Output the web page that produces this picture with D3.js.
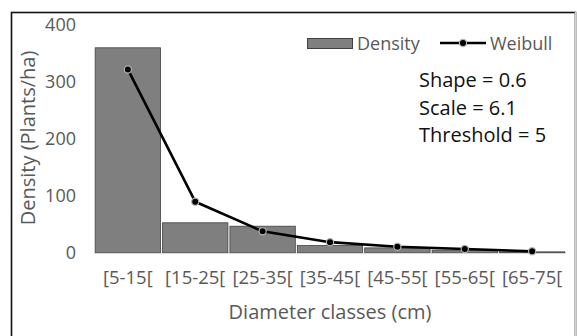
<!DOCTYPE html>
<html lang="en">
<head>
    <meta charset="UTF-8">
    <title>Density and Weibull fit by diameter class</title>
    <style>
        body {
            margin: 0;
            background-color: #ffffff;
        }
        svg text {
            font-family: "Open Sans", sans-serif;
        }
        .axis text {
            fill: #595959;
            font-size: 18px;
        }
        .x.axis text {
            font-size: 18.5px;
        }
        .axis path, .axis line {
            display: none;
        }
    </style>
    <script src="https://cdn.jsdelivr.net/npm/d3@7/dist/d3.min.js"></script>
</head>
<body>
<div id="chart"></div>
<script>
    // values
    var categories = ["[5-15[", "[15-25[", "[25-35[", "[35-45[", "[45-55[", "[55-65[", "[65-75["];
    var density = [360, 53, 47, 13, 9, 5, 2];
    var weibull = [322, 90, 38, 19, 11, 7, 3];
    var yTicks = [0, 100, 200, 300, 400];
    var notes = ["Shape = 0.6", "Scale = 6.1", "Threshold = 5"];

    var width = 577, height = 336;
    var barFill = "#7f7f7f", barEdge = "#404040", textGrey = "#595959";

    var svg = d3.select("#chart")
        .append("svg")
        .attr("width", width)
        .attr("height", height);

    // outer frame
    svg.append("rect")
        .attr("x", 11.5).attr("y", 12.5)
        .attr("width", 564).attr("height", 340)
        .style("fill", "none")
        .style("stroke", "#111")
        .style("stroke-width", 1.6);
    svg.append("line")
        .attr("x1", 575.5).attr("x2", 575.5)
        .attr("y1", 12).attr("y2", height)
        .style("stroke", "#d0d0d0")
        .style("stroke-width", 1.5);

    var x = d3.scaleBand()
        .domain(categories)
        .range([94.5, 565.5])
        .paddingInner(0.03)
        .paddingOuter(0.01);

    var y = d3.scaleLinear()
        .domain([0, 400])
        .range([253, 25]);

    // bars
    svg.append("g")
        .selectAll("rect")
        .data(density)
        .enter().append("rect")
        .attr("x", function(d, i) { return x(categories[i]); })
        .attr("y", function(d) { return y(d); })
        .attr("width", x.bandwidth())
        .attr("height", function(d) { return y(0) - y(d); })
        .style("fill", barFill)
        .style("stroke", barEdge)
        .style("stroke-width", 0.8);

    // baseline
    svg.append("line")
        .attr("x1", 94).attr("x2", 566)
        .attr("y1", y(0) + 0.5).attr("y2", y(0) + 0.5)
        .style("stroke", "#d9d9d9")
        .style("stroke-width", 1.2);

    // weibull line
    var line = d3.line()
        .x(function(d, i) { return x(categories[i]) + x.bandwidth() / 2; })
        .y(function(d) { return y(d); });

    svg.append("path")
        .datum(weibull)
        .attr("d", line)
        .style("fill", "none")
        .style("stroke", "#000")
        .style("stroke-width", 2.6)
        .style("stroke-linejoin", "round");

    svg.append("g")
        .selectAll("circle")
        .data(weibull)
        .enter().append("circle")
        .attr("cx", function(d, i) { return x(categories[i]) + x.bandwidth() / 2; })
        .attr("cy", function(d) { return y(d); })
        .attr("r", 3.6)
        .style("fill", "#000")
        .style("stroke", "#b5b5b5")
        .style("stroke-width", 1.2);

    // axes
    svg.append("g")
        .attr("class", "y axis")
        .attr("transform", "translate(86,0)")
        .call(d3.axisLeft(y).tickValues(yTicks).tickSize(0).tickPadding(10));

    svg.append("g")
        .attr("class", "x axis")
        .attr("transform", "translate(0," + y(0) + ")")
        .call(d3.axisBottom(x).tickSize(0).tickPadding(18));

    // axis titles
    svg.append("text")
        .attr("transform", "translate(35,138) rotate(-90)")
        .attr("text-anchor", "middle")
        .style("fill", textGrey)
        .style("font-size", "20px")
        .text("Density (Plants/ha)");

    svg.append("text")
        .attr("x", 330).attr("y", 319)
        .attr("text-anchor", "middle")
        .style("fill", textGrey)
        .style("font-size", "20px")
        .text("Diameter classes (cm)");

    // legend
    var legend = svg.append("g").attr("class", "legend");
    legend.append("rect")
        .attr("x", 307.5).attr("y", 38.5)
        .attr("width", 45).attr("height", 10)
        .style("fill", barFill)
        .style("stroke", barEdge)
        .style("stroke-width", 1);
    legend.append("text")
        .attr("x", 357).attr("y", 49.5)
        .style("fill", textGrey)
        .style("font-size", "18px")
        .text("Density");
    legend.append("line")
        .attr("x1", 440).attr("x2", 486)
        .attr("y1", 43).attr("y2", 43)
        .style("stroke", "#000")
        .style("stroke-width", 2.6);
    legend.append("circle")
        .attr("cx", 463).attr("cy", 43).attr("r", 3.6)
        .style("fill", "#000")
        .style("stroke", "#b5b5b5")
        .style("stroke-width", 1.2);
    legend.append("text")
        .attr("x", 490).attr("y", 49.5)
        .style("fill", textGrey)
        .style("font-size", "18px")
        .text("Weibull");

    // fitted parameters
    svg.append("g")
        .selectAll("text")
        .data(notes)
        .enter().append("text")
        .attr("x", 419)
        .attr("y", function(d, i) { return 87 + i * 27.5; })
        .style("fill", "#111")
        .style("font-size", "20px")
        .text(function(d) { return d; });
</script>
</body>
</html>
